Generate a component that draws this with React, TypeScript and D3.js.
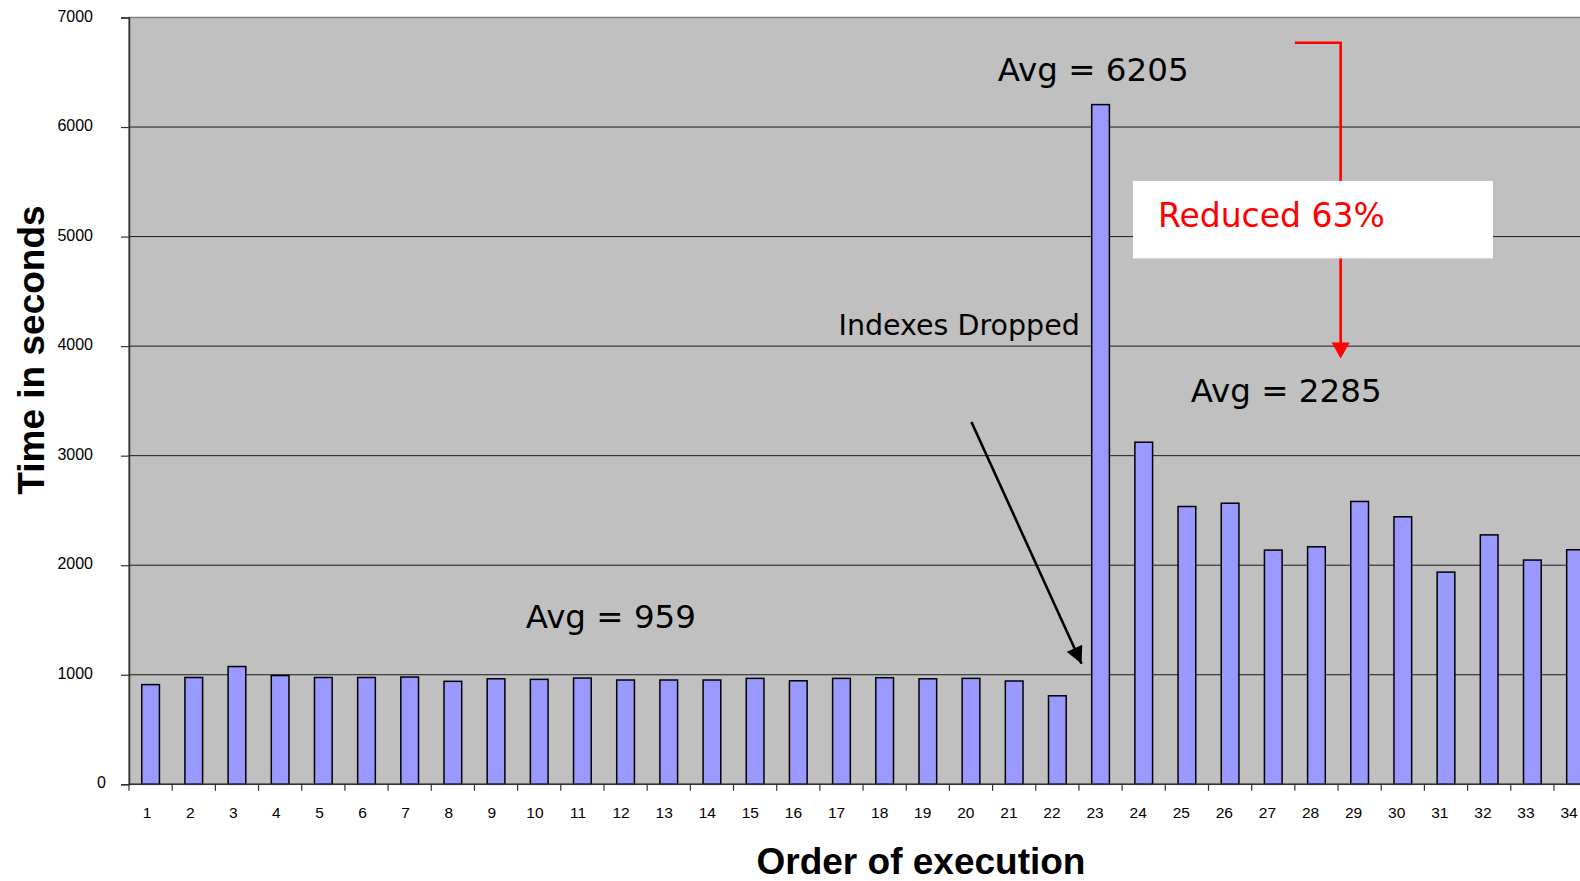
import * as d3 from "d3";
import { useEffect, useRef } from "react";

// Data
const runs = [
  "1", "2", "3", "4", "5", "6", "7", "8", "9", "10", "11", "12", "13", "14", "15", "16", "17",
  "18", "19", "20", "21", "22", "23", "24", "25", "26", "27", "28", "29", "30", "31", "32", "33", "34"
];
const seconds = [
  910, 975, 1075, 993, 975, 975, 979, 940, 963, 958, 970, 952, 952, 952, 967, 945, 967,
  973, 963, 967, 943, 808, 6205, 3123, 2536, 2566, 2138, 2168, 2582, 2442, 1937, 2277, 2047, 2141
];
const yTicks = [0, 1000, 2000, 3000, 4000, 5000, 6000, 7000];

// annotation anchors in (run index, seconds)
const avgLabels = [
  { text: "Avg = 959", i: 9.19, v: 1430 },
  { text: "Avg = 6205", i: 20.12, v: 6420 },
  { text: "Avg = 2285", i: 24.59, v: 3490 },
];

const W = 1580;
const H = 881;

const drawChart = (el: SVGSVGElement) => {
  const svg = d3.select(el);
  svg.selectAll("*").remove();

  const left = 129;
  const band = 43.18;
  const right = left + band * runs.length; // runs past the picture edge
  const y0 = 784.3;
  const yTop = 17.5;

  const x = d3.scaleBand().domain(runs).range([left, right]).padding(0);
  const xi = d3.scaleLinear().domain([0, runs.length]).range([left, right]);
  const y = d3.scaleLinear().domain([0, 7000]).range([y0, yTop]);

  // plot area
  svg.append("rect")
    .attr("x", left).attr("y", y(7000))
    .attr("width", right - left).attr("height", y(0) - y(7000))
    .attr("fill", "#c0c0c0")
    .attr("stroke", "#808080").attr("stroke-width", 1.5);

  // gridlines
  svg.append("g").selectAll("line")
    .data(yTicks.filter(t => t > 0 && t < 7000))
    .join("line")
    .attr("x1", left).attr("x2", right)
    .attr("y1", d => y(d)).attr("y2", d => y(d))
    .attr("stroke", "#1a1a1a").attr("stroke-width", 1);

  // bars
  const barW = x.bandwidth() * 0.41;
  svg.append("g").selectAll("rect")
    .data(runs.map((r, i) => ({ r, v: seconds[i] })))
    .join("rect")
    .attr("x", d => x(d.r)! + (x.bandwidth() - barW) / 2)
    .attr("y", d => y(d.v))
    .attr("width", barW)
    .attr("height", d => y(0) - y(d.v))
    .attr("fill", "#9999ff")
    .attr("stroke", "#000").attr("stroke-width", 1.5);

  // y axis
  const yAxis = d3.axisLeft(y).tickValues(yTicks).tickSize(8).tickPadding(28).tickFormat(d3.format("d"));
  const yg = svg.append("g").attr("transform", `translate(${left},0)`).call(yAxis);
  yg.select(".domain").attr("stroke", "#333").attr("stroke-width", 1.5);
  yg.selectAll(".tick line").attr("stroke", "#333").attr("stroke-width", 1.2);
  yg.selectAll("text")
    .attr("font-family", "'Liberation Sans', Arial, sans-serif")
    .attr("font-size", 16).attr("fill", "#000").attr("dy", "0.22em")
    .attr("dx", d => (d === 0 ? 13 : 0));

  // x axis: labels near band centres, ticks between bands
  const xAxis = d3.axisBottom(x).tickSize(0).tickPadding(22.3);
  const xg = svg.append("g").attr("transform", `translate(0,${y0})`).call(xAxis);
  xg.select(".domain").remove();
  xg.selectAll("text")
    .attr("x", (_d, i) => -3.5 - i * 0.09)
    .attr("font-family", "'Liberation Sans', Arial, sans-serif")
    .attr("font-size", 15.5).attr("fill", "#000");

  svg.append("line")
    .attr("x1", left).attr("x2", right).attr("y1", y0).attr("y2", y0)
    .attr("stroke", "#333").attr("stroke-width", 1.5);
  svg.append("g").selectAll("line")
    .data(d3.range(runs.length + 1))
    .join("line")
    .attr("x1", d => xi(d)).attr("x2", d => xi(d))
    .attr("y1", y0).attr("y2", y0 + 6.5)
    .attr("stroke", "#333").attr("stroke-width", 1.2);

  // axis titles
  svg.append("text")
    .attr("x", 921).attr("y", 874)
    .attr("text-anchor", "middle")
    .attr("font-family", "'Liberation Sans', Arial, sans-serif")
    .attr("font-weight", "bold").attr("font-size", 37)
    .text("Order of execution");

  svg.append("text")
    .attr("transform", "translate(44,350) rotate(-90)")
    .attr("text-anchor", "middle")
    .attr("font-family", "'Liberation Sans', Arial, sans-serif")
    .attr("font-weight", "bold").attr("font-size", 37)
    .text("Time in seconds");

  // annotations
  const annoFont = "'DejaVu Sans', Verdana, sans-serif";
  svg.append("g").selectAll("text")
    .data(avgLabels)
    .join("text")
    .attr("x", d => xi(d.i)).attr("y", d => y(d.v))
    .attr("font-family", annoFont).attr("font-size", 32.5).attr("fill", "#000")
    .text(d => d.text);

  svg.append("text")
    .attr("x", xi(22.02)).attr("y", y(4105))
    .attr("text-anchor", "end")
    .attr("font-family", annoFont).attr("font-size", 28.5).attr("fill", "#000")
    .text("Indexes Dropped");

  const defs = svg.append("defs");
  defs.append("marker")
    .attr("id", "blackHead").attr("viewBox", "0 0 10 10")
    .attr("refX", 10).attr("refY", 5)
    .attr("markerWidth", 7).attr("markerHeight", 6.5)
    .attr("markerUnits", "strokeWidth")
    .attr("orient", "auto")
    .append("path").attr("d", "M0,0 L10,5 L0,10 z").attr("fill", "#000");

  svg.append("line")
    .attr("x1", xi(19.51)).attr("y1", y(3308))
    .attr("x2", xi(22.06)).attr("y2", y(1101))
    .attr("stroke", "#000").attr("stroke-width", 2.6)
    .attr("marker-end", "url(#blackHead)");

  // red reduction bracket
  const cx = xi(28.06);
  const tipY = y(3886);
  svg.append("path")
    .attr("d", `M${xi(27.0)},${y(6770)} H${cx} V${tipY - 15}`)
    .attr("fill", "none").attr("stroke", "#ff0000").attr("stroke-width", 2.6);
  svg.append("path")
    .attr("d", `M${cx - 9},${tipY - 16} L${cx + 9},${tipY - 16} L${cx},${tipY} z`)
    .attr("fill", "#ff0000");

  svg.append("rect")
    .attr("x", xi(23.25)).attr("y", y(5508))
    .attr("width", xi(31.59) - xi(23.25)).attr("height", y(4801) - y(5508))
    .attr("fill", "#fff");
  svg.append("text")
    .attr("x", xi(23.83)).attr("y", y(5090))
    .attr("font-family", annoFont).attr("font-size", 33).attr("fill", "#ff0000")
    .text("Reduced 63%");
};

export default function App() {
  const ref = useRef<SVGSVGElement>(null);

  useEffect(() => {
    if (ref.current) drawChart(ref.current);
  }, []);

  return (
    <svg
      ref={ref}
      width={W}
      height={H}
      style={{ position: "absolute", left: 0, top: 0, background: "#fff", display: "block" }}
    />
  );
}
